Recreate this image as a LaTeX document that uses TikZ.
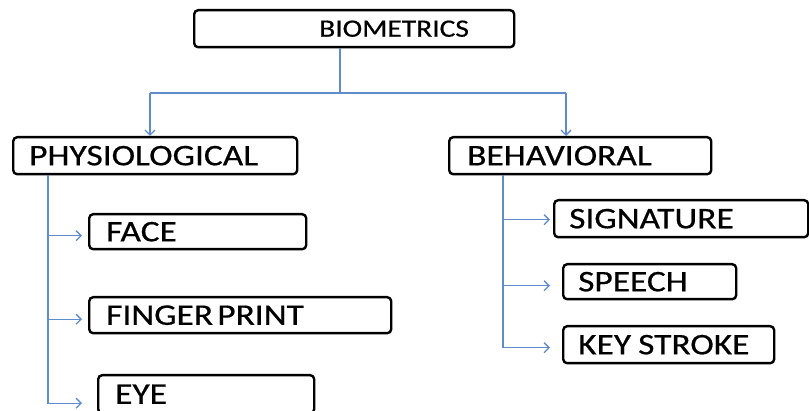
\documentclass[tikz,border=0pt]{standalone}
\usepackage{graphicx}
\usepackage{fontspec}
\setmainfont{Carlito}
\newfontfamily\medfont[FakeBold=0.5]{Carlito}
\usetikzlibrary{arrows.meta}
\definecolor{connblue}{RGB}{95,140,205}
\newcommand\Wide[1]{\scalebox{1.18}[1]{\medfont #1}}
\tikzset{
  box/.style={draw=black, line width=2.4pt, rounded corners=4pt, anchor=north west,
    inner xsep=0pt, inner ysep=0pt, align=left, font=\fontsize{30}{30}\selectfont},
  conn/.style={draw=connblue, line width=1.3pt, -{Straight Barb[length=5pt,width=10pt,line width=1.3pt]}},
  plain/.style={draw=connblue, line width=1.3pt}
}
\begin{document}
\begin{tikzpicture}[x=1pt,y=-1pt]
\useasboundingbox (0,0) rectangle (809,411);
% boxes
\node[box, text width=320pt, minimum height=37pt, font=\fontsize{25}{25}\selectfont] (bio) at (193,9) {\hspace*{125pt}\Wide{BIOMETRICS}};
\node[box, text width=284pt, minimum height=37pt] (phys) at (12,136) {\hspace*{16pt}\Wide{PHYSIOLOGICAL}};
\node[box, text width=217pt, minimum height=35pt] (face) at (88,213) {\hspace*{17pt}\Wide{FACE}};
\node[box, text width=302pt, minimum height=36pt] (finger) at (88,296) {\hspace*{17pt}\Wide{FINGER\hspace{0.12em}PRINT}};
\node[box, text width=216pt, minimum height=38pt] (eye) at (97,374) {\hspace*{17pt}\Wide{EYE}};
\node[box, text width=262pt, minimum height=37pt] (beh) at (448,136) {\hspace*{18pt}\Wide{BEHAVIORAL}};
\node[box, text width=254pt, minimum height=37pt] (sig) at (553,199) {\hspace*{15pt}\Wide{SIGNATURE}};
\node[box, text width=173pt, minimum height=35pt] (speech) at (562,263) {\hspace*{15pt}\Wide{SPEECH}};
\node[box, text width=211pt, minimum height=37pt] (key) at (562,325) {\hspace*{15pt}\Wide{KEY\hspace{0.2em}STROKE}};
% top connectors
\coordinate (j) at (340,93);
\coordinate (jl) at (150,93);
\coordinate (jr) at (566,93);
\draw[plain] (bio.south -| j) -- (j);
\draw[plain] (jl) -- (jr);
\draw[conn] (jl) -- (phys.north -| jl);
\draw[conn] (jr) -- (beh.north -| jr);
% left branch
\coordinate (lx) at (48,0);
\draw[plain] (phys.south -| lx) -- (lx |- 0,402);
\draw[conn] (phys.south -| lx) |- ([xshift=-6pt,yshift=-4pt]face.west);
\draw[conn] (phys.south -| lx) |- ([xshift=-6pt,yshift=-4pt]finger.west);
\draw[conn] (phys.south -| lx) |- ([xshift=-15pt,yshift=-9pt]eye.west);
% right branch
\coordinate (rx) at (503,0);
\draw[conn] (beh.south -| rx) |- ([xshift=-3pt,yshift=-1pt]sig.west);
\draw[conn] (beh.south -| rx) |- ([xshift=-12pt,yshift=-4pt]speech.west);
\draw[conn] (beh.south -| rx) |- ([xshift=-12pt,yshift=-3pt]key.west);
\end{tikzpicture}
\end{document}
